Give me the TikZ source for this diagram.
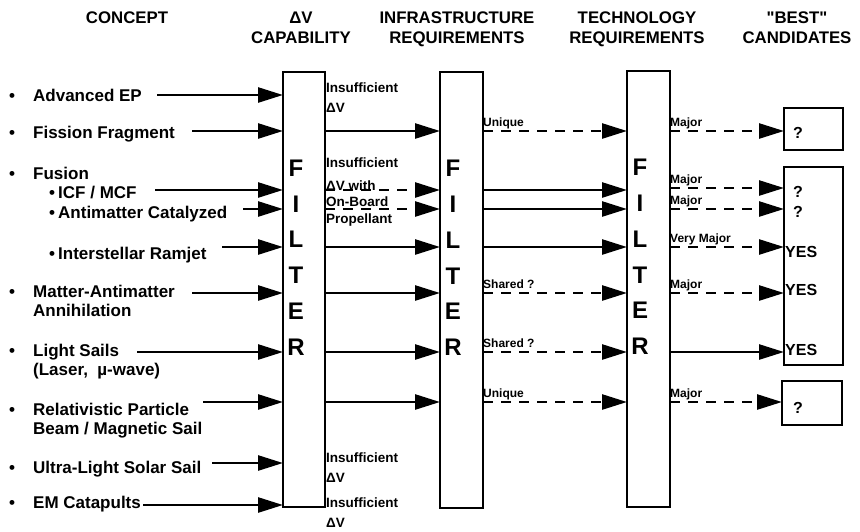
\documentclass[tikz,border=0pt]{standalone}
\usepackage{fontspec}
\setmainfont[Ligatures=TeXOff]{Liberation Sans}
\usetikzlibrary{arrows.meta}

\newcommand\headfont{\fontsize{16.8}{20}\selectfont\bfseries}
\newcommand\itemfont{\fontsize{17}{19}\selectfont\bfseries}
\newcommand\notefont{\fontsize{13.5}{19.5}\selectfont\bfseries}
\newcommand\tagfont{\fontsize{12}{14}\selectfont\bfseries}
\newcommand\filterfont{\fontsize{24}{24}\selectfont\bfseries}
\newcommand\itm[1]{\llap{\textbullet\hspace{#1}}}

% multi-line nodes sit on the baseline of their last line
\tikzset{
  filterbox/.style={draw, line width=2.6pt, inner sep=0pt, outer sep=0pt},
  head/.style={font=\headfont, align=center, anchor=base, inner sep=0pt},
  concept/.style={font=\itemfont, align=left, anchor=base west, inner sep=0pt},
  note/.style={font=\notefont, align=left, anchor=base west, inner sep=0pt},
  tag/.style={font=\tagfont, anchor=base west, inner sep=0pt},
  letter/.style={font=\filterfont, inner sep=0pt},
  result/.style={font=\fontsize{16}{18}\selectfont\bfseries, inner sep=0pt},
  arr/.style={line width=2.6pt, -{Triangle[length=25pt,width=15pt]}},
  darr/.style={arr, dash pattern=on 10pt off 8pt},
}

\begin{document}
\begin{tikzpicture}[x=1pt,y=-1pt]
\useasboundingbox (0,0) rectangle (860,531);

% column headings
\node[head] (hCon) at (127,23) {CONCEPT};
\node[head] (hDV) at (301,43) {ΔV\\CAPABILITY};
\node[head] (hInf) at (457,43) {INFRASTRUCTURE\\REQUIREMENTS};
\node[head] (hTech) at (637,43) {TECHNOLOGY\\REQUIREMENTS};
\node[head] (hBest) at (797,43) {"BEST"\\CANDIDATES};

% the three filters
\node[filterbox, minimum width=42pt, minimum height=435pt] (f1) at (304,289.5) {};
\node[filterbox, minimum width=43pt, minimum height=436pt] (f2) at (461.5,290) {};
\node[filterbox, minimum width=43pt, minimum height=436pt] (f3) at (648.5,289) {};
\foreach \f in {f1,f2,f3}
  \foreach \l [count=\i from 0] in {F,I,L,T,E,R}
    \node[letter] (\f-\l) at ([shift={(13,{-121.5+35.8*\i})}]\f.west) {\l};

% candidate boxes
\node[filterbox, minimum width=59pt, minimum height=42pt] (b1) at (813.5,129) {};
\node[filterbox, minimum width=59pt, minimum height=198pt] (b2) at (813.5,266) {};
\node[filterbox, minimum width=60pt, minimum height=44pt] (b3) at (812,403) {};

% concepts
\node[concept] (cEP) at (33,101) {\itm{18pt}Advanced EP};
\node[concept] (cFis) at (33,138) {\itm{18pt}Fission Fragment};
\node[concept] (cFus) at (33,179) {\itm{18pt}Fusion};
\node[concept] (cICF) at (58,198) {\itm{3pt}ICF / MCF};
\node[concept] (cAnti) at (58,218) {\itm{3pt}Antimatter Catalyzed};
\node[concept] (cRam) at (58,259) {\itm{3pt}Interstellar Ramjet};
\node[concept] (cMat) at (33,316) {\itm{18pt}Matter-Antimatter\\Annihilation};
\node[concept] (cLS) at (33,375) {\itm{18pt}Light Sails\\(Laser,\ \ µ-wave)};
\node[concept] (cRel) at (33,434) {\itm{18pt}Relativistic Particle\\Beam / Magnetic Sail};
\node[concept] (cUL) at (33,473) {\itm{18pt}Ultra-Light Solar Sail};
\node[concept] (cEM) at (33,508) {\itm{18pt}EM Catapults};

% rows (start of each input arrow)
\coordinate (rEP) at (157,95);
\coordinate (rFis) at (192,131);
\coordinate (rICF) at (155,190);
\coordinate (rAnti) at (243,209);
\coordinate (rRam) at (222,247);
\coordinate (rMat) at (192,293);
\coordinate (rLS) at (137,352);
\coordinate (rRel) at (203,402);
\coordinate (rUL) at (212,463);
\coordinate (rEM) at (143,505);
\foreach \r in {rEP,rFis,rICF,rAnti,rRam,rMat,rLS,rRel,rUL,rEM}
  \draw[arr] (\r) -- (\r -| f1.west);

% past the first filter
\draw[arr] (rFis -| f1.east) -- (rFis -| f2.west);
\draw[darr] (rICF -| f1.east) -- (rICF -| f2.west);
\draw[darr] (rAnti -| f1.east) -- (rAnti -| f2.west);
\draw[arr] (rRam -| f1.east) -- (rRam -| f2.west);
\draw[arr] (rMat -| f1.east) -- (rMat -| f2.west);
\draw[arr] (rLS -| f1.east) -- (rLS -| f2.west);
\draw[arr] (rRel -| f1.east) -- (rRel -| f2.west);

% past the second filter
\draw[darr] (rFis -| f2.east) -- (rFis -| f3.west);
\draw[arr] (rICF -| f2.east) -- (rICF -| f3.west);
\draw[arr] (rAnti -| f2.east) -- (rAnti -| f3.west);
\draw[arr] (rRam -| f2.east) -- (rRam -| f3.west);
\draw[darr] (rMat -| f2.east) -- (rMat -| f3.west);
\draw[darr] (rLS -| f2.east) -- (rLS -| f3.west);
\draw[darr] (rRel -| f2.east) -- (rRel -| f3.west);

% past the third filter
\draw[darr] (rFis -| f3.east) -- (rFis -| b1.west);
\draw[darr] ([yshift=2pt]rICF -| f3.east) -- ([yshift=2pt]rICF -| b2.west);
\draw[darr] (rAnti -| f3.east) -- (rAnti -| b2.west);
\draw[darr] (rRam -| f3.east) -- (rRam -| b2.west);
\draw[darr] (rMat -| f3.east) -- (rMat -| b2.west);
\draw[arr] (rLS -| f3.east) -- (rLS -| b2.west);
\draw[darr] (rRel -| f3.east) -- (rRel -| b3.west);

% notes after the first filter
\node[note] (nEP) at (326,112) {Insufficient\\ΔV};
\node[note, font=\fontsize{13.5}{16.5}\selectfont\bfseries] (nFus) at (326,223)
  {Insufficient\\[6.5pt]ΔV with\\On-Board\\Propellant};
\node[note] (nUL) at (326,482) {Insufficient\\ΔV};
\node[note] (nEM) at (326,527) {Insufficient\\ΔV};

% infrastructure tags
\node[tag] (tFis) at ([yshift=5pt]rFis -| f2.east) {Unique};
\node[tag] (tMat) at ([yshift=5pt]rMat -| f2.east) {Shared ?};
\node[tag] (tLS) at ([yshift=5pt]rLS -| f2.east) {Shared ?};
\node[tag] (tRel) at ([yshift=5pt]rRel -| f2.east) {Unique};

% technology tags
\node[tag] (uFis) at ([yshift=5pt]rFis -| f3.east) {Major};
\node[tag] (uICF) at ([yshift=7pt]rICF -| f3.east) {Major};
\node[tag] (uAnti) at ([yshift=5pt]rAnti -| f3.east) {Major};
\node[tag] (uRam) at ([yshift=5pt]rRam -| f3.east) {Very Major};
\node[tag] (uMat) at ([yshift=5pt]rMat -| f3.east) {Major};
\node[tag] (uRel) at ([yshift=5pt]rRel -| f3.east) {Major};

% best candidates
\node[result] (q1) at (798,133) {?};
\node[result] (q2) at (798,192) {?};
\node[result] (q3) at (798,212) {?};
\node[result, anchor=west] (y1) at (785,252) {YES};
\node[result, anchor=west] (y2) at (785,290) {YES};
\node[result, anchor=west] (y3) at (785,350) {YES};
\node[result] (q4) at (798,408) {?};
\end{tikzpicture}
\end{document}
